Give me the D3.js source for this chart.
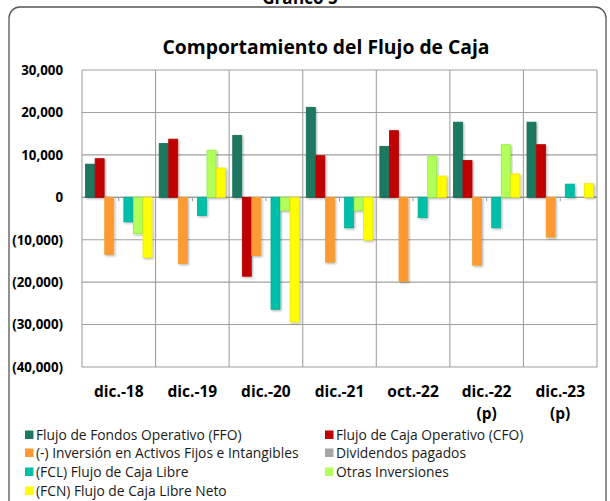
<!DOCTYPE html>
<html><head><meta charset="utf-8">
<script src="https://cdn.jsdelivr.net/npm/d3@7"></script>
<style>body{margin:0;background:#fff}svg{display:block}text{font-family:"Open Sans","Noto Sans",sans-serif}</style>
</head><body><svg id="c" width="610" height="501"></svg>
<script>
const categories = ["dic.-18","dic.-19","dic.-20","dic.-21","oct.-22","dic.-22 (p)","dic.-23 (p)"];
const seriesNames = ["Flujo de Fondos Operativo (FFO)","Flujo de Caja Operativo (CFO)","(-) Inversión en Activos Fijos e Intangibles","Dividendos pagados","(FCL) Flujo de Caja Libre","Otras Inversiones","(FCN) Flujo de Caja Libre Neto"];
const ffo   = [7800, 12700, 14600, 21200, 12000, 17700, 17700];
const cfo   = [9100, 13700, -18600, 9800, 15700, 8700, 12400];
const inv   = [-13500, -15600, -13700, -15300, -19800, -16000, -9400];
const div   = [0, 0, 0, 0, 0, 0, 0];
const fcl   = [-5800, -4300, -26400, -7200, -4800, -7200, 3100];
const otras = [-8600, 11100, -3100, -3100, 9700, 12400, 0];
const fcn   = [-14200, 6900, -29400, -10100, 5000, 5500, 3200];
const yTicks = [30000, 20000, 10000, 0, -10000, -20000, -30000, -40000];
const colors = ["#1e7860","#c00000","#ff9933","#a6a6a6","#00bfa8","#b3ff5c","#ffff00"];
const strokes = ["#1a6b55","#b00000","#f0a030","#999","#00b09a","#8cf040","#f2e600"];
const values = [ffo, cfo, inv, div, fcl, otras, fcn];

const svg = d3.select("#c");
const defs = svg.append("defs");
const f = defs.append("filter").attr("id","sh").attr("x","-20%").attr("y","-20%").attr("width","150%").attr("height","150%");
f.append("feDropShadow").attr("dx",1.2).attr("dy",1.2).attr("stdDeviation",0.8).attr("flood-color","#000").attr("flood-opacity",0.3);

// outer frame
svg.append("rect").attr("x",9).attr("y",7).attr("width",597).attr("height",510).attr("rx",11)
  .attr("fill","none").attr("stroke","#555").attr("stroke-width",1.3);
svg.append("text").attr("x",300).attr("y",4).attr("text-anchor","middle").attr("font-weight","bold").attr("font-size",17).text("Gráfico 5");

svg.append("text").attr("x",326).attr("y",54).attr("text-anchor","middle").attr("font-weight","bold")
  .attr("font-size",19).attr("textLength",327).attr("lengthAdjust","spacingAndGlyphs").text("Comportamiento del Flujo de Caja");

const x0 = d3.scaleBand().domain(categories).range([82,597]).padding(0);
const x1 = d3.scaleBand().domain(d3.range(seriesNames.length)).range([3.3, x0.bandwidth()-3.3]).padding(0);
const y = d3.scaleLinear().domain([-40000,30000]).range([367,70]);

const g = svg.append("g");
g.selectAll(".hg").data(yTicks).join("line")
  .attr("x1",82).attr("x2",597).attr("y1",d=>y(d)).attr("y2",d=>y(d))
  .attr("stroke","#a0a0a0").attr("stroke-width",1.1);
const bounds = categories.map(c=>x0(c)).concat([597]);
g.selectAll(".vg").data(bounds).join("line")
  .attr("x1",d=>d).attr("x2",d=>d).attr("y1",70).attr("y2",367)
  .attr("stroke","#a0a0a0").attr("stroke-width",1.1);
g.append("line").attr("x1",82).attr("x2",597).attr("y1",y(0)).attr("y2",y(0)).attr("stroke","#999").attr("stroke-width",1.2);
g.selectAll(".tk").data(categories).join("line")
  .attr("x1",d=>x0(d)+x0.bandwidth()/2).attr("x2",d=>x0(d)+x0.bandwidth()/2)
  .attr("y1",y(0)).attr("y2",y(0)+4).attr("stroke","#999").attr("stroke-width",1);

values.forEach((vals,si)=>{
  g.append("g").selectAll("rect").data(vals.map((v,i)=>({v,c:categories[i]})).filter(d=>d.v!==0)).join("rect")
    .attr("x",d=>x0(d.c)+x1(si)+0.3)
    .attr("width",x1.bandwidth()-0.6)
    .attr("y",d=>Math.min(y(d.v),y(0)))
    .attr("height",d=>Math.abs(y(d.v)-y(0)))
    .attr("fill",colors[si]).attr("stroke",strokes[si]).attr("stroke-width",0.8)
    .attr("filter","url(#sh)");
});

svg.selectAll(".yl").data(yTicks).join("text")
  .attr("x",63).attr("y",d=>y(d)+4.8).attr("text-anchor","end").attr("font-weight","bold").attr("font-size",13.3)
  .text(d=> d<0 ? "("+d3.format(",")(-d)+")" : d3.format(",")(d));

categories.forEach(c=>{
  const parts = c.split(" ");
  const t = svg.append("text").attr("text-anchor","middle").attr("font-weight","bold").attr("font-size",15.5)
    .attr("x",x0(c)+x0.bandwidth()/2).attr("y",397);
  parts.forEach((p,i)=>t.append("tspan").attr("x",x0(c)+x0.bandwidth()/2).attr("dy",i?22:0).text(p));
});

const legPos = [[25,435],[325,435],[25,453],[325,453],[25,472],[325,472],[25,491]];
seriesNames.forEach((n,i)=>{
  const [lx,ly] = legPos[i];
  svg.append("rect").attr("x",lx).attr("y",ly-4.5).attr("width",8.5).attr("height",8.5).attr("fill",colors[i]);
  svg.append("text").attr("x",lx+11).attr("y",ly+5).attr("font-size",13.8).attr("fill","#1a1a1a").text(n);
});
</script></body></html>
